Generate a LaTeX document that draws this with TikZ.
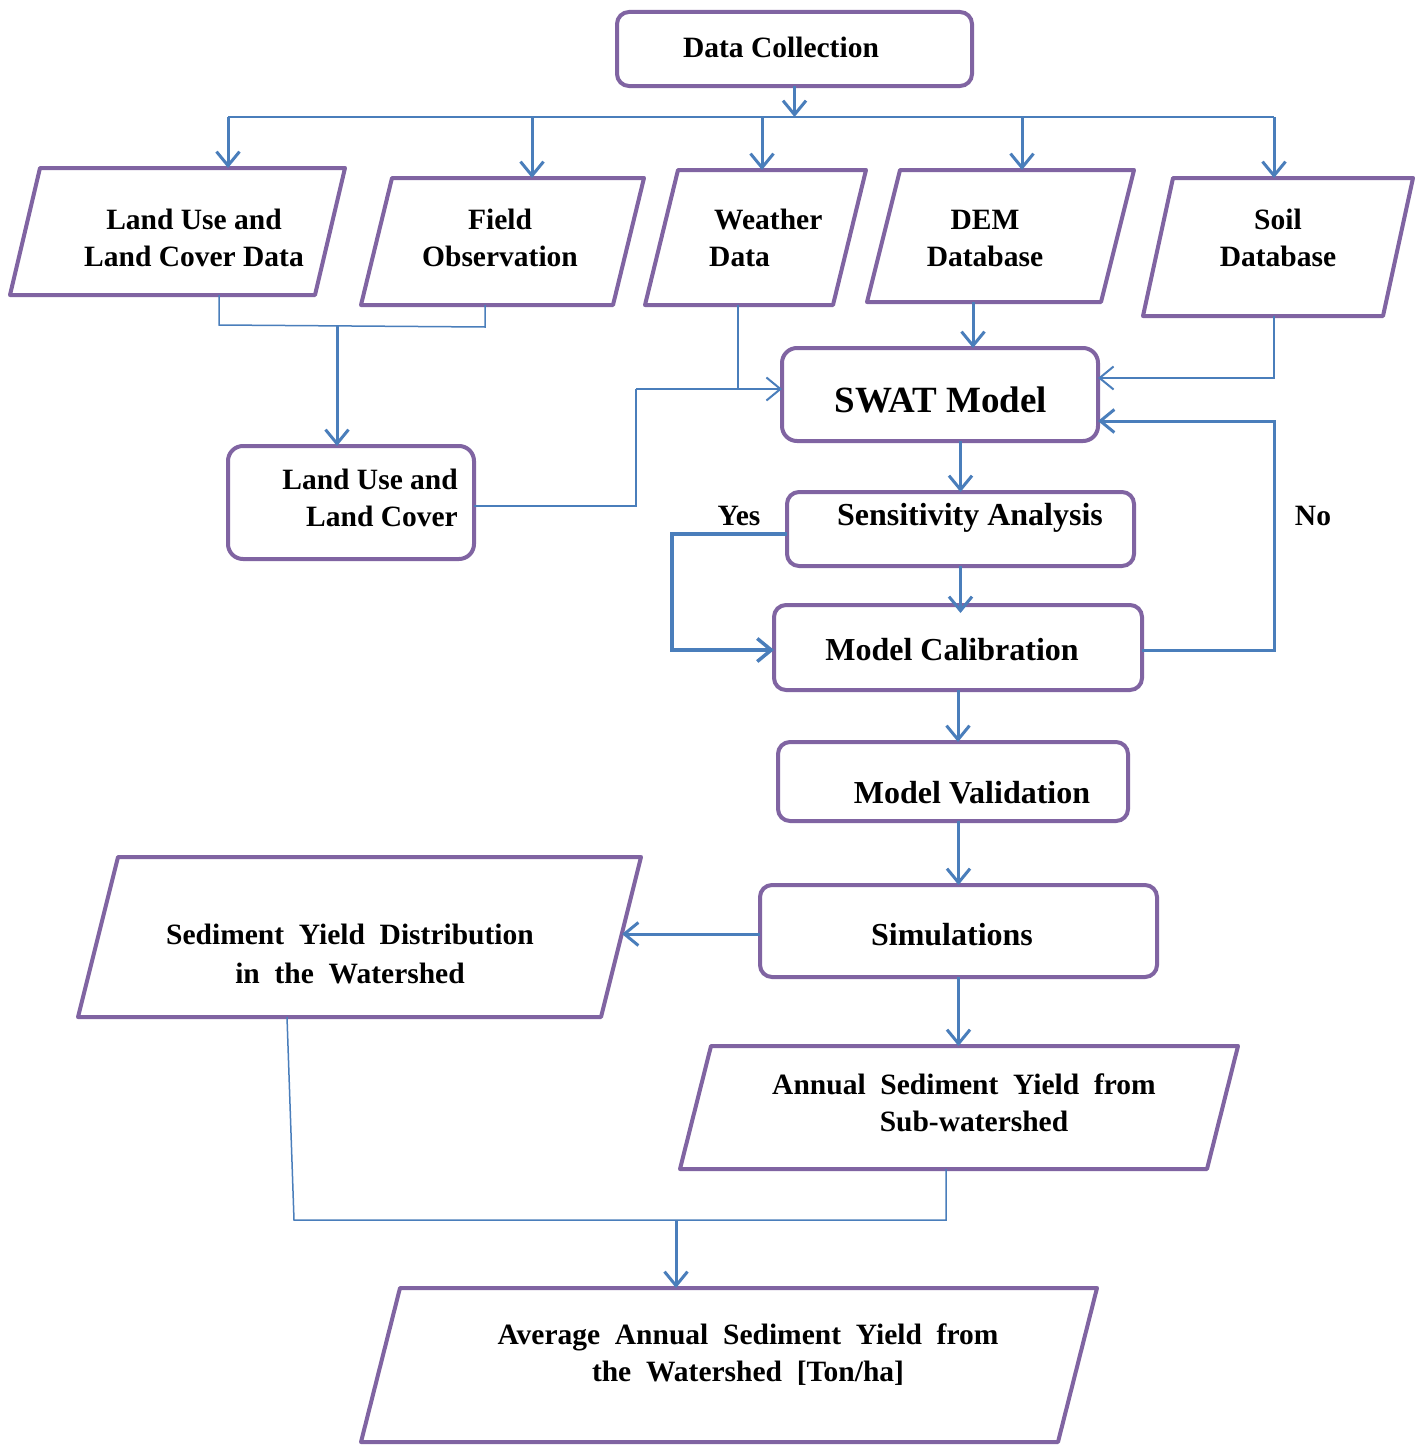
\documentclass[tikz,border=0pt]{standalone}
\usepackage{fontspec}
\setmainfont{Liberation Serif}
\usetikzlibrary{arrows.meta,calc}
\definecolor{boxpurple}{HTML}{8064A2}
\definecolor{lineblue}{HTML}{4A7EBB}
\newcommand\drawpara[2]{\draw[pshape] ($(#1.north west)+(#2,0)$) -- (#1.north east) -- ($(#1.south east)+(-#2,0)$) -- (#1.south west) -- cycle;}
\begin{document}
\begin{tikzpicture}[x=1pt,y=-1pt,
  rbox/.style={draw=boxpurple, line width=4pt, rounded corners=12pt, inner sep=0pt, outer sep=0pt},
  pshape/.style={draw=boxpurple, line width=4pt, line join=round},
  pnode/.style={inner sep=0pt, outer sep=0pt},
  txt/.style={font=\bfseries\fontsize{29.5}{37}\selectfont, align=center, inner sep=0pt},
  midtxt/.style={font=\bfseries\fontsize{32}{38}\selectfont, align=center, inner sep=0pt},
  arr/.style={draw=lineblue, line width=3pt, -{Straight Barb[length=14pt,width=23pt]}},
  arrthin/.style={draw=lineblue, line width=2pt, -{Straight Barb[length=14pt,width=23pt]}},
  thinl/.style={draw=lineblue, line width=1.5pt},
]
\useasboundingbox (0,0) rectangle (1416,1445);
\fill[white] (0,0) rectangle (1416,1445);

% rounded boxes
\node[rbox, minimum width=355pt, minimum height=74pt] (dc) at (794.5,49) {};
\node[rbox, minimum width=316pt, minimum height=93pt, rounded corners=15pt] (swat) at (940,394.5) {};
\node[rbox, minimum width=246pt, minimum height=113pt, rounded corners=15pt] (lub) at (351,502.5) {};
\node[rbox, minimum width=347pt, minimum height=74pt] (sens) at (960.5,529) {};
\node[rbox, minimum width=368pt, minimum height=85pt] (cal) at (958,647.5) {};
\node[rbox, minimum width=350pt, minimum height=79pt] (val) at (953,781.5) {};
\node[rbox, minimum width=397pt, minimum height=92pt] (sim) at (958.5,931) {};

% parallelograms
\node[pnode, minimum width=335pt, minimum height=127pt] (lulcd) at (177.5,231.5) {};
\node[pnode, minimum width=283pt, minimum height=127pt] (fo) at (502.5,241.5) {};
\node[pnode, minimum width=221pt, minimum height=135pt] (wd) at (755.5,237.5) {};
\node[pnode, minimum width=267pt, minimum height=132pt] (dem) at (1000.5,236) {};
\node[pnode, minimum width=270pt, minimum height=138pt] (soil) at (1278,247) {};
\node[pnode, minimum width=563pt, minimum height=160pt] (syd) at (359.5,937) {};
\node[pnode, minimum width=558pt, minimum height=123pt] (ann) at (959,1107.5) {};
\node[pnode, minimum width=736pt, minimum height=154pt] (avg) at (729,1365) {};
\drawpara{lulcd}{30}
\drawpara{fo}{31}
\drawpara{wd}{33}
\drawpara{dem}{33}
\drawpara{soil}{30}
\drawpara{syd}{40}
\drawpara{ann}{31}
\drawpara{avg}{39}

% texts
\node[txt] (tdc) at (781,47) {Data Collection};
\node[txt] (tlulcd) at (194,238) {Land Use and\\Land Cover Data};
\node[txt] (tfo) at (500,238) {Field\\Observation};
\node[txt, align=left, anchor=west] (twd) at (709,238) {\hspace*{5pt}Weather\\Data};
\node[txt] (tdem) at (985,238) {DEM\\Database};
\node[txt] (tsoil) at (1278,238) {Soil\\Database};
\node[txt, align=right, anchor=east] (tlub) at (458,498) {Land Use and\\Land Cover};
\node[font=\bfseries\fontsize{37}{44}\selectfont, inner sep=0pt] (tswat) at (941,400) {SWAT Model};
\node[midtxt] (tsens) at (970,518) {Sensitivity Analysis};
\node[midtxt] (tcal) at (952,650) {Model Calibration};
\node[midtxt] (tval) at (972,793) {Model Validation};
\node[midtxt] (tsim) at (952,935) {Simulations};
\node[txt, font=\bfseries\fontsize{29.5}{39}\selectfont] (tsyd) at (350,954) {Sediment\ \ Yield\ \ Distribution\\in\ \ the\ \ Watershed};
\node[txt] (tann) at (964,1103) {Annual\ \ Sediment\ \ Yield\ \ from\\\hspace*{20pt}Sub-watershed};
\node[txt] (tavg) at (748,1355) {Average\ \ Annual\ \ Sediment\ \ Yield\ \ from\\the\ \ Watershed\ \ [Ton/ha]};
\node[txt] (tyes) at (739,516) {Yes};
\node[txt] (tno) at (1313,516) {No};

% distribution bus
\coordinate (b1) at (228,117);
\coordinate (b2) at (532,117);
\coordinate (b3) at (762,117);
\coordinate (b4) at (1022,117);
\coordinate (b5) at (1274,117);
\draw[arr] (dc.south) -- (dc.south |- b1);
\draw[draw=lineblue, line width=2pt] (b1) -- (b5);
\draw[arr] (b1) -- (b1 |- lulcd.north);
\draw[arr] (b2) -- (b2 |- fo.north);
\draw[arr] (b3) -- (b3 |- wd.north);
\draw[arr] (b4) -- (b4 |- dem.north);
\draw[arr] (b5) -- (b5 |- soil.north);

% land use merge
\coordinate (j1) at (219,325);
\coordinate (j2) at (485,327);
\coordinate (j3) at (337,326);
\draw[thinl] (lulcd.south -| j1) -- (j1) -- (j2) -- (fo.south -| j2);
\draw[arr] (j3) -- (j3 |- lub.north);

% inputs to SWAT
\coordinate (k1) at (636,389);
\coordinate (j4) at (738,389);
\draw[thinl] (wd.south -| j4) -- (j4);
\draw[thinl] ([yshift=-3.5pt]lub.east) -| (k1);
\draw[arrthin] (k1) -- (k1 -| swat.west);
\coordinate (k0) at (973,0);
\draw[arr] (dem.south -| k0) -- (swat.north -| k0);
\coordinate (k2) at (1274,378);
\draw[arrthin] (soil.south -| k2) -- (k2) -- (k2 -| swat.east);

% main chain
\draw[arr] (swat.south -| sens.north) -- (sens.north);
\draw[arr] (sens.south) -- ([yshift=-8pt]sens.south |- cal.north);
\coordinate (k4) at (672,0);
\draw[arr, line width=3.5pt] ([yshift=-5pt]sens.west) -| ([yshift=-2.5pt]k4 |- cal.west) -- ([yshift=-2.5pt]cal.west);
\coordinate (k3) at (1274,421);
\draw[arr] ([yshift=-2.5pt]cal.east) -| (k3) -- (k3 -| swat.east);
\draw[arr] (cal.south) -- (cal.south |- val.north);
\draw[arr] (sim.north |- val.south) -- (sim.north);
\coordinate (k5) at (622,0);
\draw[arr] ([yshift=-3pt]sim.west) -- ([yshift=-3pt]sim.west -| k5);
\draw[arr] (sim.south) -- (sim.south |- ann.north);

% bottom merge
\coordinate (m0) at (287,0);
\coordinate (m1) at (294,1220);
\coordinate (m2) at (946,1220);
\coordinate (m3) at (676,1220);
\draw[thinl] (syd.south -| m0) -- (m1) -- (m2) -- (ann.south -| m2);
\draw[arr] (m3) -- (avg.north -| m3);
\end{tikzpicture}
\end{document}
